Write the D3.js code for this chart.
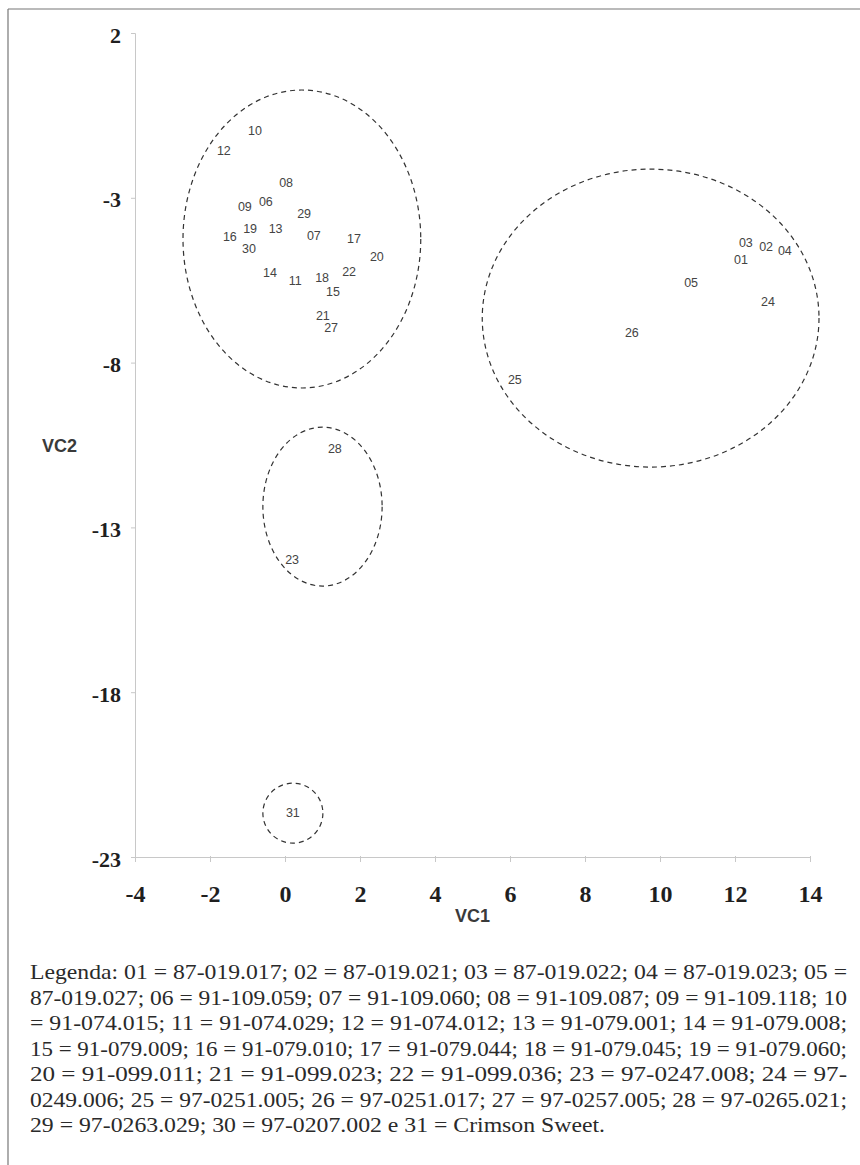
<!DOCTYPE html>
<html>
<head>
<meta charset="utf-8">
<script src="https://cdn.jsdelivr.net/npm/d3@7"></script>
<style>
  body { margin: 0; background: #fff; }
  svg { display: block; }
</style>
</head>
<body>
<script>
'use strict'

// genotype labels and their positions on the two canonical variables
const ids = ['01', '02', '03', '04', '05', '06', '07', '08', '09', '10',
             '11', '12', '13', '14', '15', '16', '17', '18', '19', '20',
             '21', '22', '23', '24', '25', '26', '27', '28', '29', '30', '31']
const vc1 = [12.16, 12.83, 12.29, 13.33, 10.83, -0.51, 0.77, 0.03, -1.07, -0.8,
             0.27, -1.63, -0.25, -0.4, 1.28, -1.47, 1.84, 0.99, -0.93, 2.45,
             1.01, 1.71, 0.19, 12.88, 6.13, 9.25, 1.23, 1.33, 0.51, -0.96, 0.21]
const vc2 = [-4.89, -4.49, -4.37, -4.61, -5.58, -3.13, -4.16, -2.55, -3.28, -0.97,
             -5.52, -1.58, -3.95, -5.28, -5.86, -4.19, -4.25, -5.43, -3.95, -4.8,
             -6.59, -5.25, -13.99, -6.16, -8.53, -7.1, -6.95, -10.62, -3.49, -4.55, -21.67]

// dashed group ellipses: centre and radii in data units
const groupCx = [0.45, 9.75, 1.0, 0.21]
const groupCy = [-4.25, -6.65, -12.37, -21.67]
const groupRx = [3.17, 4.49, 1.59, 0.8]
const groupRy = [4.52, 4.52, 2.41, 0.91]

const xTicks = [-4, -2, 0, 2, 4, 6, 8, 10, 12, 14]
const yTicks = [2, -3, -8, -13, -18, -23]

const legendLines = [
  'Legenda: 01 = 87-019.017; 02 = 87-019.021; 03 = 87-019.022; 04 = 87-019.023; 05 =',
  '87-019.027; 06 = 91-109.059; 07 = 91-109.060; 08 = 91-109.087; 09 = 91-109.118; 10',
  '= 91-074.015; 11 = 91-074.029; 12 = 91-074.012; 13 = 91-079.001; 14 = 91-079.008;',
  '15 = 91-079.009; 16 = 91-079.010; 17 = 91-079.044; 18 = 91-079.045; 19 = 91-079.060;',
  '20 = 91-099.011; 21 = 91-099.023; 22 = 91-099.036; 23 = 97-0247.008; 24 = 97-',
  '0249.006; 25 = 97-0251.005; 26 = 97-0251.017; 27 = 97-0257.005; 28 = 97-0265.021;',
  '29 = 97-0263.029; 30 = 97-0207.002 e 31 = Crimson Sweet.'
]

const W = 860, H = 1165
const AXIS = '#c8c8c8'
const INK = '#3a3a3a'
const SERIF = '"Liberation Serif", "Times New Roman", Times, serif'
const SANS = '"Liberation Sans", Arial, sans-serif'

const svg = d3.select('body').append('svg')
  .attr('width', W)
  .attr('height', H)

// page frame (scan edge)
svg.append('line').attr('x1', 8).attr('x2', W).attr('y1', 9).attr('y2', 9)
  .attr('stroke', '#777').attr('stroke-width', 1.2)
svg.append('line').attr('x1', 8).attr('x2', 8).attr('y1', 9).attr('y2', H)
  .attr('stroke', '#777').attr('stroke-width', 1.2)

const x = d3.scaleLinear().domain([-4, 14]).range([135, 810])
const y = d3.scaleLinear().domain([-23, 2]).range([857, 33])

const xAxis = svg.append('g')
  .attr('transform', `translate(0, ${ y(-23) })`)
  .call(d3.axisBottom(x).tickValues(xTicks).tickSize(5).tickFormat(d => d))
const yAxis = svg.append('g')
  .attr('transform', `translate(${ x(-4) }, 0)`)
  .call(d3.axisLeft(y).tickValues(yTicks).tickSize(4).tickPadding(10).tickFormat(d => d))

;[xAxis, yAxis].forEach(g => {
  g.select('.domain').attr('stroke', AXIS)
  g.selectAll('.tick line').attr('stroke', AXIS)
  g.selectAll('.tick text')
    .attr('fill', '#1f1f1f')
    .style('font-family', SERIF)
    .style('font-weight', 'bold')
})
xAxis.selectAll('.tick line').attr('y1', -1)
xAxis.selectAll('.tick text')
  .attr('y', 45).attr('dy', null)
  .style('font-size', '24px')
yAxis.selectAll('.tick text')
  .attr('y', 2)
  .style('font-size', '22px')

// axis titles
svg.append('text')
  .attr('x', x(5)).attr('y', 922)
  .attr('text-anchor', 'middle')
  .style('font-family', SANS)
  .style('font-weight', 'bold').style('font-size', '18px')
  .attr('fill', INK)
  .text('VC1')
svg.append('text')
  .attr('x', 42).attr('y', 452)
  .style('font-family', SANS)
  .style('font-weight', 'bold').style('font-size', '18px')
  .attr('fill', INK)
  .text('VC2')

// group ellipses
svg.append('g').selectAll('ellipse')
  .data(groupCx.map((cx, i) => ({ cx, cy: groupCy[i], rx: groupRx[i], ry: groupRy[i] })))
  .join('ellipse')
  .attr('cx', d => x(d.cx))
  .attr('cy', d => y(d.cy))
  .attr('rx', d => x(d.rx) - x(0))
  .attr('ry', d => y(0) - y(d.ry))
  .attr('fill', 'none')
  .attr('stroke', '#333')
  .attr('stroke-width', 1.2)
  .attr('stroke-dasharray', '5,4')

// point labels
svg.append('g').selectAll('text')
  .data(ids.map((id, i) => ({ id, a: vc1[i], b: vc2[i] })))
  .join('text')
  .attr('x', d => x(d.a))
  .attr('y', d => y(d.b))
  .attr('text-anchor', 'middle')
  .attr('dominant-baseline', 'central')
  .style('font-family', SANS)
  .style('font-size', '12.5px')
  .attr('fill', '#444')
  .text(d => d.id)

// legend below the chart, justified like the printed caption
svg.append('g').selectAll('text')
  .data(legendLines)
  .join('text')
  .attr('x', 30)
  .attr('y', (d, i) => 979 + i * 25.5)
  .attr('textLength', (d, i) => i < legendLines.length - 1 ? 817 : 575)
  .attr('lengthAdjust', 'spacingAndGlyphs')
  .style('font-family', SERIF)
  .style('font-size', '21px')
  .attr('fill', '#2a2a2a')
  .text(d => d)
</script>
</body>
</html>
